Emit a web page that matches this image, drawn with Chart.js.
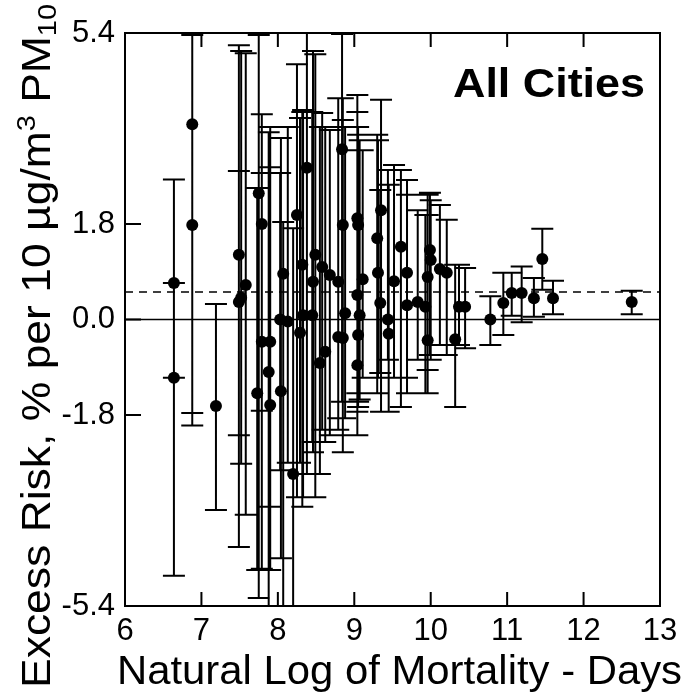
<!DOCTYPE html>
<html><head><meta charset="utf-8">
<script src="https://cdn.jsdelivr.net/npm/chart.js@4.4.0/dist/chart.umd.min.js"></script>
<style>html,body{margin:0;padding:0;background:#fff;}canvas{display:block;}</style>
</head><body>
<canvas id="c" width="686" height="698"></canvas>
<script>
// ---- data ----
const logMortality = [6.64,6.64,6.88,6.88,7.19,7.49,7.58,7.49,7.52,7.75,7.79,7.73,7.79,7.90,7.88,7.90,8.04,8.03,8.13,8.07,8.20,8.25,8.29,8.32,8.38,8.46,8.49,8.45,8.55,8.58,8.62,8.68,8.79,8.79,8.84,8.85,8.88,9.04,9.05,9.04,9.04,9.05,9.11,9.30,9.35,9.31,9.34,9.44,9.45,9.52,9.61,9.69,9.69,9.83,9.93,9.96,9.96,9.99,10.00,10.12,10.21,10.32,10.37,10.45,10.78,10.95,11.06,11.19,11.35,11.46,11.60,12.63,8.33,9.07,8.85];
const excessRisk = [0.69,-1.10,3.68,1.78,-1.63,1.22,0.65,0.33,0.41,2.38,1.80,-1.39,-0.42,-0.42,-0.99,-1.61,-1.35,0.00,-0.04,0.86,-2.91,1.97,-0.25,1.03,2.86,0.71,1.22,0.08,-0.82,0.99,-0.61,0.84,0.71,-0.33,3.21,1.78,0.12,1.91,1.78,0.46,-0.86,-0.29,0.76,1.53,2.06,0.88,0.31,0.00,-0.27,0.72,1.37,0.88,0.27,0.33,0.24,0.80,-0.39,1.31,1.12,0.95,0.88,-0.37,0.24,0.24,0.00,0.31,0.50,0.50,0.40,1.14,0.40,0.33,0.08,0.08,-0.35];
const ciLower = [-1.10,-4.83,-1.76,-2.00,-3.59,-4.29,-3.68,-2.18,-2.72,-5.25,-4.70,-4.72,-1.72,-4.72,-5.60,-3.53,-4.50,-2.84,-2.70,-5.50,-5.60,-3.35,-2.70,-3.53,-2.91,-2.50,-3.35,-2.31,-2.91,-2.08,-2.31,-2.18,-1.86,-2.08,-1.55,-2.18,-1.86,-1.74,-1.65,-1.39,-2.18,-1.55,-1.10,-1.39,-1.74,-1.10,-1.01,-0.76,-1.74,-1.10,-1.65,-1.39,-1.10,-0.76,-1.39,-0.95,-1.39,-0.67,-0.76,-0.48,-0.67,-1.65,-0.48,-0.54,-0.48,-0.29,0.07,-0.05,0.05,0.56,0.10,0.10,-3.35,-1.51,-2.50];
const ciUpper = [2.64,0.69,5.36,5.36,0.29,5.17,5.02,2.80,5.06,5.36,2.76,2.48,3.87,3.63,3.53,2.87,3.42,2.76,3.63,1.84,1.72,4.81,3.80,3.91,5.45,5.06,5.00,3.91,3.63,3.89,3.63,3.57,3.63,4.17,5.38,4.17,3.63,4.23,3.63,3.91,3.19,3.48,3.19,3.48,4.14,3.38,2.44,2.82,2.54,2.91,2.82,2.63,2.35,2.06,1.97,2.35,1.97,2.39,2.25,2.16,1.88,1.03,1.03,0.97,0.44,0.88,0.88,1.00,0.78,1.71,0.73,0.54,3.95,3.38,3.76];
const xTickValues = [6,7,8,9,10,11,12,13];
const yTickValues = [-5.4,-1.8,0,1.8,5.4];
const pooledEstimate = 0.52;
const panelLabel = 'All Cities';
const xTitle = 'Natural Log of Mortality - Days';
const yTitleParts = [['Excess Risk, % per 10 \u00b5g/m','n'],['3','sup'],[' PM','n'],['10','sub']];

const FONT = '"Liberation Sans", Arial, Helvetica, sans-serif';

const decorations = {
  id: 'decorations',
  beforeDatasetsDraw(chart) {
    const {ctx, chartArea: a, scales: {x, y}} = chart;
    ctx.save();
    ctx.beginPath(); ctx.rect(a.left, a.top, a.right - a.left, a.bottom - a.top); ctx.clip();
    ctx.strokeStyle = '#000'; ctx.lineWidth = 2;
    ctx.beginPath();
    for (let i = 0; i < logMortality.length; i++) {
      const px = x.getPixelForValue(logMortality[i]);
      const lo = y.getPixelForValue(ciLower[i]);
      const hi = y.getPixelForValue(ciUpper[i]);
      ctx.moveTo(px, lo); ctx.lineTo(px, hi);
      ctx.moveTo(px - 11, lo); ctx.lineTo(px + 11, lo);
      ctx.moveTo(px - 11, hi); ctx.lineTo(px + 11, hi);
    }
    ctx.stroke();
    ctx.restore();
  },
  afterDraw(chart) {
    const {ctx, chartArea: a, scales: {x, y}} = chart;
    ctx.save();
    ctx.strokeStyle = '#000'; ctx.lineWidth = 2;
    ctx.strokeRect(a.left, a.top, a.right - a.left, a.bottom - a.top);
    ctx.beginPath();
    xTickValues.forEach(v => {
      const px = x.getPixelForValue(v);
      ctx.moveTo(px, a.bottom); ctx.lineTo(px, a.bottom - 14);
      ctx.moveTo(px, a.top); ctx.lineTo(px, a.top + 14);
    });
    yTickValues.forEach(v => {
      const py = y.getPixelForValue(v);
      ctx.moveTo(a.left, py); ctx.lineTo(a.left + 16, py);
    });
    ctx.stroke();
    ctx.fillStyle = '#000';
    // panel label
    ctx.font = 'bold 40px ' + FONT;
    ctx.textBaseline = 'alphabetic';
    let w = ctx.measureText(panelLabel).width;
    ctx.save(); ctx.translate(645, 97); ctx.scale(192 / w, 1);
    ctx.textAlign = 'right'; ctx.fillText(panelLabel, 0, 0); ctx.restore();
    // x title
    ctx.font = '40px ' + FONT;
    w = ctx.measureText(xTitle).width;
    ctx.save(); ctx.translate(117, 684); ctx.scale(565 / w, 1);
    ctx.textAlign = 'left'; ctx.fillText(xTitle, 0, 0); ctx.restore();
    // y title (rotated)
    const big = 40, small = 26;
    let total = 0;
    yTitleParts.forEach(([t, k]) => { ctx.font = (k === 'n' ? big : small) + 'px ' + FONT; total += ctx.measureText(t).width; });
    ctx.save(); ctx.translate(50, 688); ctx.rotate(-Math.PI / 2); ctx.scale(684 / total, 1);
    ctx.textAlign = 'left';
    let pos = 0;
    yTitleParts.forEach(([t, k]) => {
      ctx.font = (k === 'n' ? big : small) + 'px ' + FONT;
      const off = k === 'sup' ? -15 : (k === 'sub' ? 6 : 0);
      ctx.fillText(t, pos, off);
      pos += ctx.measureText(t).width;
    });
    ctx.restore();
    ctx.restore();
  }
};

new Chart(document.getElementById('c'), {
  type: 'scatter',
  data: {
    datasets: [
      {
        data: logMortality.map((v, i) => ({x: v, y: excessRisk[i]})),
        pointRadius: 6, pointHoverRadius: 6, backgroundColor: '#000', borderWidth: 0, order: 1
      },
      {
        type: 'line', data: [{x: 6, y: 0}, {x: 13, y: 0}],
        borderColor: '#000', borderWidth: 1.5, pointRadius: 0, order: 3
      },
      {
        type: 'line', data: [{x: 6, y: pooledEstimate}, {x: 13, y: pooledEstimate}],
        borderColor: '#000', borderWidth: 1.5, borderDash: [8, 6], pointRadius: 0, order: 2
      }
    ]
  },
  options: {
    responsive: false, animation: false, devicePixelRatio: 1,
    layout: {padding: {left: 0, top: 33, right: 26, bottom: 0}},
    plugins: {legend: {display: false}, tooltip: {enabled: false}},
    scales: {
      x: {
        type: 'linear', min: 6, max: 13,
        afterBuildTicks: s => { s.ticks = xTickValues.map(v => ({value: v})); },
        afterFit: s => { s.height = 92; },
        grid: {display: false, drawTicks: false}, border: {display: false},
        ticks: {color: '#000', font: {family: FONT, size: 31}, padding: 7, maxRotation: 0, autoSkip: false}
      },
      y: {
        type: 'linear', min: -5.4, max: 5.4,
        afterBuildTicks: s => { s.ticks = yTickValues.map(v => ({value: v})); },
        afterFit: s => { s.width = 125; },
        grid: {display: false, drawTicks: false}, border: {display: false},
        ticks: {color: '#000', font: {family: FONT, size: 31}, padding: 10, autoSkip: false,
                callback: v => Number(v).toFixed(1)}
      }
    }
  },
  plugins: [decorations]
});
</script>
</body></html>
